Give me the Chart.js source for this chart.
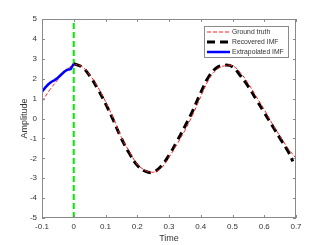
<!DOCTYPE html>
<html>
<head>
<meta charset="utf-8">
<script src="https://cdn.jsdelivr.net/npm/chart.js@4/dist/chart.umd.min.js"></script>
<style>
  html, body { margin: 0; padding: 0; background: #fff; }
  #wrap { width: 327px; height: 245px; }
</style>
</head>
<body>
<div id="wrap"><canvas id="chart-area"></canvas></div>
<script>
// values
const truthTime = [-0.1, -0.075, -0.05, -0.025, 0, 0.025, 0.05, 0.075, 0.1, 0.125, 0.15, 0.175, 0.2, 0.225, 0.25,
  0.275, 0.3, 0.325, 0.35, 0.375, 0.4, 0.425, 0.45, 0.475, 0.5, 0.525, 0.55, 0.575, 0.6, 0.625, 0.65, 0.675, 0.7];
const truthAmp = [0.85, 1.45, 1.95, 2.4, 2.68, 2.62, 2.2, 1.6, 0.85, 0.0, -0.95, -1.65, -2.3, -2.6, -2.7,
  -2.5, -1.95, -1.3, -0.6, 0.2, 1.1, 1.95, 2.45, 2.65, 2.65, 2.3, 1.75, 1.1, 0.45, -0.25, -0.9, -1.5, -2.0];

const recTime = [0, 0.025, 0.05, 0.075, 0.1, 0.125, 0.15, 0.175, 0.2, 0.225, 0.25, 0.275, 0.3, 0.325, 0.35,
  0.375, 0.4, 0.425, 0.45, 0.475, 0.5, 0.525, 0.55, 0.575, 0.6, 0.625, 0.65, 0.675, 0.69];
const recAmp = [2.75, 2.6, 2.15, 1.5, 0.75, -0.1, -1.0, -1.75, -2.35, -2.65, -2.7, -2.4, -1.85, -1.15, -0.4,
  0.4, 1.3, 2.1, 2.55, 2.68, 2.6, 2.15, 1.6, 0.95, 0.3, -0.35, -1.0, -1.65, -2.15];

const extTime = [-0.1, -0.09, -0.08, -0.07, -0.06, -0.05, -0.04, -0.03, -0.02, -0.01, 0];
const extAmp = [1.35, 1.55, 1.72, 1.85, 1.93, 2.05, 2.2, 2.35, 2.45, 2.48, 2.75];

const splitTime = [0, 0];
const splitAmp = [-5, 5];

const labels = ['Ground truth', 'Recovered IMF', 'Extrapolated IMF'];

const xTicks = [-0.1, 0, 0.1, 0.2, 0.3, 0.4, 0.5, 0.6, 0.7];
const yTicks = [-5, -4, -3, -2, -1, 0, 1, 2, 3, 4, 5];

const pts = (xs, ys) => xs.map((x, i) => ({ x: x, y: ys[i] }));

const FONT = '"Liberation Sans", Arial, Helvetica, sans-serif';

// matlab style box, inner ticks and legend
const boxPlugin = {
  id: 'box',
  afterDraw(chart) {
    const c = chart.ctx;
    const a = chart.chartArea;
    const xs = chart.scales.x;
    const ys = chart.scales.y;
    c.save();
    c.strokeStyle = '#8a8a8a';
    c.lineWidth = 1;
    c.strokeRect(a.left + 0.5, a.top + 0.5, a.right - a.left - 1, a.bottom - a.top - 1);
    c.beginPath();
    xTicks.forEach((t) => {
      const px = Math.round(xs.getPixelForValue(t)) + 0.5;
      c.moveTo(px, a.bottom); c.lineTo(px, a.bottom - 3);
      c.moveTo(px, a.top); c.lineTo(px, a.top + 3);
    });
    yTicks.forEach((t) => {
      const py = Math.round(ys.getPixelForValue(t)) + 0.5;
      c.moveTo(a.left, py); c.lineTo(a.left + 3, py);
      c.moveTo(a.right, py); c.lineTo(a.right - 3, py);
    });
    c.stroke();

    // legend
    const lx = 204, ly = 26, lw = 84, lh = 31;
    c.fillStyle = '#fff';
    c.fillRect(lx, ly, lw, lh);
    c.strokeStyle = '#8a8a8a';
    c.strokeRect(lx + 0.5, ly + 0.5, lw, lh);
    c.font = '6.8px ' + FONT;
    c.textBaseline = 'middle';
    chart.data.datasets.filter((d) => d.label).sort((p, q) => labels.indexOf(p.label) - labels.indexOf(q.label)).forEach((d, i) => {
      const y = ly + 6 + i * 10;
      c.strokeStyle = d.borderColor;
      c.lineWidth = d.borderWidth;
      c.setLineDash(d.borderDash || []);
      c.beginPath();
      c.moveTo(lx + 3, y); c.lineTo(lx + 26, y);
      c.stroke();
      c.setLineDash([]);
      c.fillStyle = '#333';
      c.fillText(d.label, lx + 28, y);
    });
    c.restore();
  },
};

const config = {
  type: 'line',
  data: {
    datasets: [
      {
        label: labels[2],
        data: pts(extTime, extAmp),
        borderColor: '#0000ff',
        borderWidth: 2.5,
        pointRadius: 0,
        tension: 0,
      },
      {
        label: labels[0],
        data: pts(truthTime, truthAmp),
        borderColor: '#ff2020',
        borderWidth: 1,
        borderDash: [4, 2],
        pointRadius: 0,
        tension: 0.4,
      },
      {
        label: labels[1],
        data: pts(recTime, recAmp),
        borderColor: '#000000',
        borderWidth: 3,
        borderDash: [8, 5],
        pointRadius: 0,
        tension: 0.4,
      },
      {
        data: pts(splitTime, splitAmp),
        borderColor: '#00ee00',
        borderWidth: 2,
        borderDash: [6, 3],
        pointRadius: 0,
      },
    ],
  },
  options: {
    responsive: true,
    maintainAspectRatio: false,
    animation: false,
    layout: { padding: { top: 19, right: 31, left: 19, bottom: 0 } },
    plugins: { legend: { display: false }, tooltip: { enabled: false } },
    scales: {
      x: {
        type: 'linear',
        min: -0.1,
        max: 0.7,
        afterBuildTicks: (s) => { s.ticks = xTicks.map((v) => ({ value: v })); },
        afterFit: (s) => { s.height = 27; },
        grid: { display: false, drawTicks: false },
        border: { display: false },
        ticks: {
          padding: 4,
          color: '#333',
          font: { family: FONT, size: 8 },
          callback: (v) => String(Math.round(v * 10) / 10),
        },
        title: { display: true, text: 'Time', color: '#333', font: { family: FONT, size: 9 }, padding: { top: 0, bottom: 1 } },
      },
      y: {
        min: -5,
        max: 5,
        afterBuildTicks: (s) => { s.ticks = yTicks.map((v) => ({ value: v })); },
        afterFit: (s) => { s.width = 23; },
        grid: { display: false, drawTicks: false },
        border: { display: false },
        ticks: {
          padding: 5,
          color: '#333',
          font: { family: FONT, size: 8 },
        },
        title: { display: true, text: 'Amplitude', color: '#333', font: { family: FONT, size: 9 }, padding: { top: 0, bottom: 0 } },
      },
    },
  },
  plugins: [boxPlugin],
};

window.myChart = new Chart(document.getElementById('chart-area').getContext('2d'), config);
</script>
</body>
</html>
